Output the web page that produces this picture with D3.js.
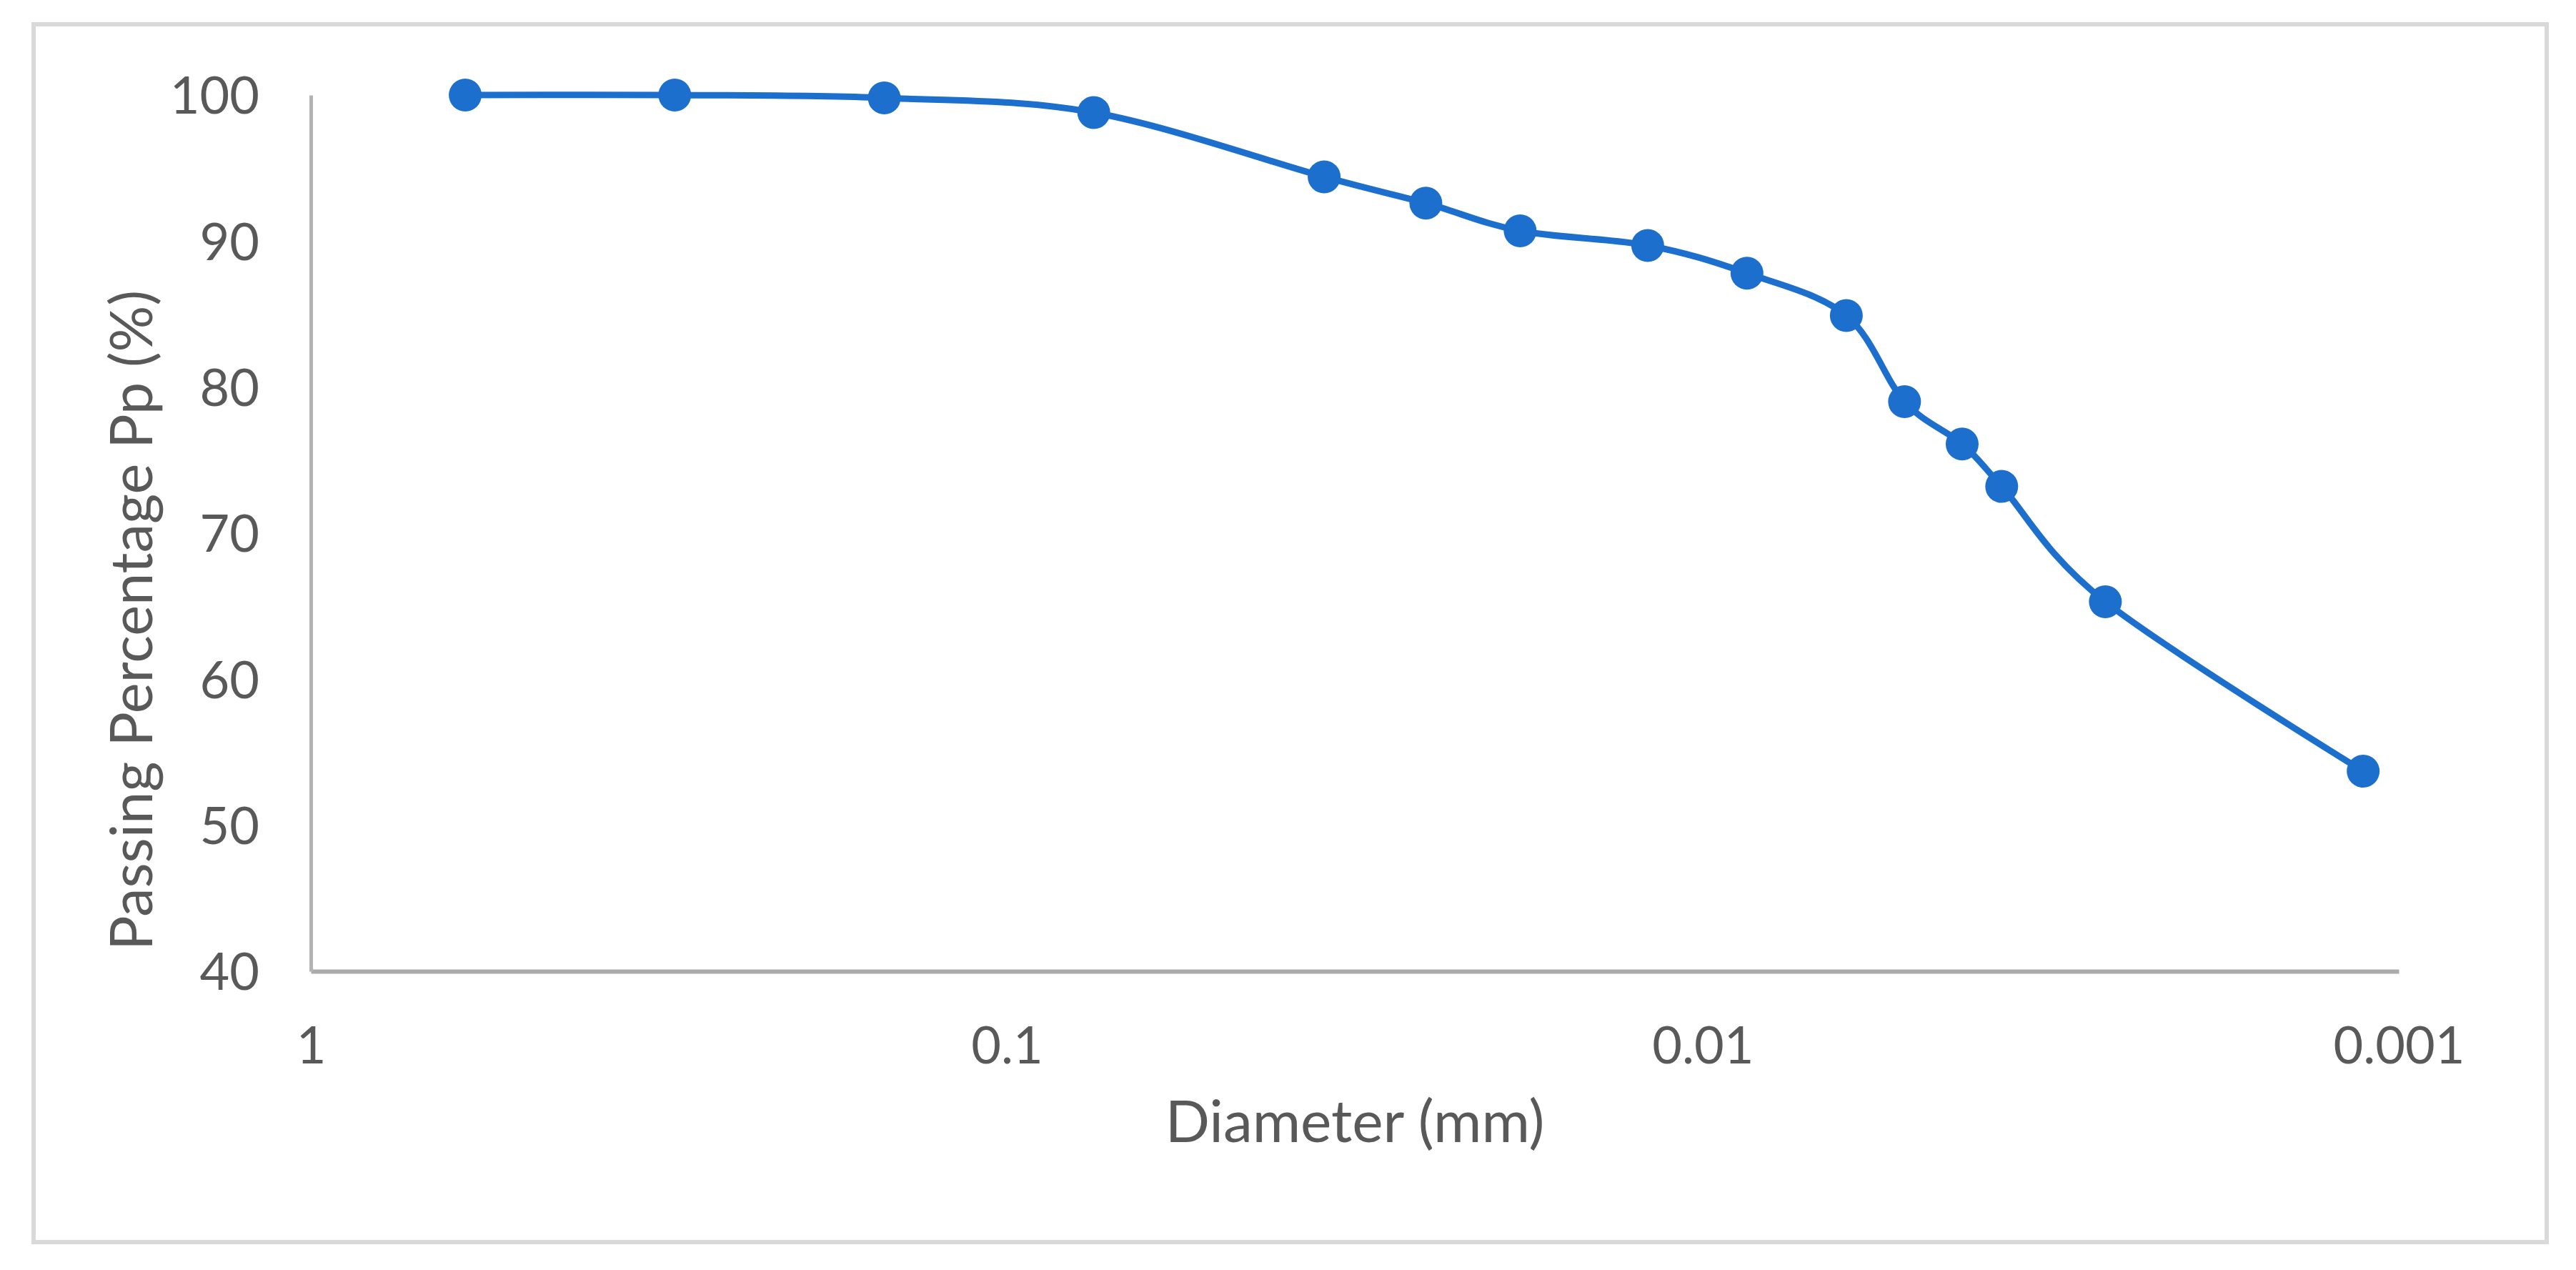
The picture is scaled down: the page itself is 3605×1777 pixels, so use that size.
<!DOCTYPE html>
<html>
<head>
<meta charset="utf-8">
<script src="https://cdn.jsdelivr.net/npm/d3@7"></script>
<style>
  html, body { margin: 0; padding: 0; background: #ffffff; }
  svg { display: block; }
  text { font-family: Lato, "Open Sans", sans-serif; fill: #595959; }
</style>
</head>
<body>
<script>
// ---- data ----
const diameters = [0.6, 0.3, 0.15, 0.075, 0.035, 0.025, 0.0183, 0.012, 0.00864, 0.00622, 0.00513, 0.00424, 0.00372, 0.00264, 0.001125];
const passing   = [100, 100, 99.8, 98.8, 94.4, 92.6, 90.7, 89.7, 87.8, 84.9, 79.0, 76.1, 73.2, 65.3, 53.7];
const xTicks = [1, 0.1, 0.01, 0.001];
const xTickLabels = ["1", "0.1", "0.01", "0.001"];
const yTicks = [40, 50, 60, 70, 80, 90, 100];
const xTitle = "Diameter (mm)";
const yTitle = "Passing Percentage Pp (%)";

const W = 3605, H = 1777;
const plot = { left: 435, right: 3357, top: 133, bottom: 1359 };

const svg = d3.select("body").append("svg").attr("width", W).attr("height", H);
svg.append("rect").attr("width", W).attr("height", H).attr("fill", "#ffffff");

// outer frame
svg.append("rect")
  .attr("x", 47).attr("y", 34).attr("width", 3564 - 47).attr("height", 1738 - 34)
  .attr("fill", "none").attr("stroke", "#d9d9d9").attr("stroke-width", 6);

const x = d3.scaleLog().domain([1, 0.001]).range([plot.left, plot.right]);
const y = d3.scaleLinear().domain([40, 100]).range([plot.bottom, plot.top]);

// x axis
const gx = svg.append("g").attr("transform", `translate(0,${plot.bottom})`)
  .call(d3.axisBottom(x).tickValues(xTicks).tickFormat((d, i) => xTickLabels[i]).tickSize(0).tickSizeOuter(0).tickPadding(0));
gx.select(".domain").attr("stroke", "#ababab").attr("stroke-width", 6);
gx.selectAll(".tick text").attr("y", 129).attr("dy", null)
  .attr("font-size", 72).attr("font-family", "Lato").attr("fill", "#595959");

// y axis
const gy = svg.append("g").attr("transform", `translate(${plot.left},0)`)
  .call(d3.axisLeft(y).tickValues(yTicks).tickFormat(d3.format("d")).tickSize(0).tickSizeOuter(0).tickPadding(0));
gy.select(".domain").attr("stroke", "#b3b3b3").attr("stroke-width", 5);
gy.selectAll(".tick text").attr("x", -72).attr("dy", "0.36em")
  .attr("font-size", 72).attr("font-family", "Lato").attr("fill", "#595959");

// titles
svg.append("text").attr("x", (plot.left + plot.right) / 2).attr("y", 1598)
  .attr("text-anchor", "middle").attr("font-size", 82).text(xTitle);
svg.append("text").attr("transform", `translate(213,868) rotate(-90)`)
  .attr("text-anchor", "middle").attr("font-size", 81).text(yTitle);

// series
const pts = diameters.map((d, i) => ({ d, p: passing[i] }));
const color = "#1c6fcd";
svg.append("path").datum(pts)
  .attr("fill", "none").attr("stroke", color).attr("stroke-width", 9).attr("stroke-linejoin", "round")
  .attr("d", d3.line().x(v => x(v.d)).y(v => y(v.p)).curve(d3.curveCardinal.tension(0)));
svg.append("g").selectAll("circle").data(pts).join("circle")
  .attr("cx", v => x(v.d)).attr("cy", v => y(v.p)).attr("r", 23).attr("fill", color);
</script>
</body>
</html>
